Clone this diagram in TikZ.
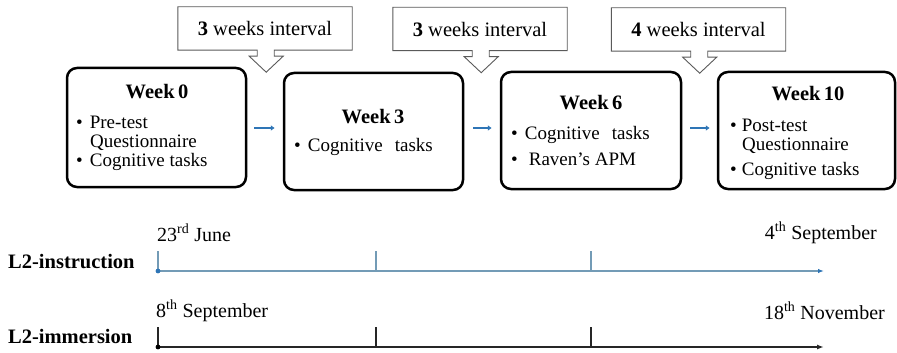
\documentclass[tikz,border=0pt]{standalone}
\usepackage{fontspec}
\setmainfont{Liberation Serif}
\usetikzlibrary{arrows.meta,calc}
\definecolor{tlblue}{RGB}{46,117,182}
\definecolor{tlline}{RGB}{115,155,182}
\definecolor{callgray}{RGB}{90,90,90}
\newcommand\bul[1]{\textbullet\hspace{#1}}
\begin{document}
\begin{tikzpicture}[x=1pt,y=-1pt,
  wkbox/.style={draw=black,line width=2.5pt,rounded corners=10pt,minimum width=179pt,minimum height=117pt,inner sep=0pt},
  callbox/.style={minimum width=174pt,minimum height=43pt,inner sep=0pt,font=\fontsize{20.5}{24}\selectfont},
  callline/.style={draw=callgray,line width=0.9pt,fill=white},
  ttl/.style={anchor=base,inner sep=0pt,font=\fontsize{20.5}{24}\selectfont\bfseries},
  itm/.style={anchor=base west,inner sep=0pt,font=\fontsize{19}{23}\selectfont},
  tltext/.style={inner sep=0pt,font=\fontsize{20}{24}\selectfont},
  tllab/.style={anchor=base west,inner sep=0pt,font=\fontsize{20.5}{24}\selectfont\bfseries},
  conn/.style={draw=tlblue,line width=2.4pt,-{Latex[length=4pt,width=6pt]}}
]
\useasboundingbox (0,0) rectangle (897,353);

% callouts
\node[callbox] (c1) at (265,28.5) {};
\node[callbox] (c2) at (480,29) {};
\node[callbox] (c3) at (698.5,29.5) {};
\foreach \c in {c1,c2,c3}{
  \draw[callline] (\c.south west) -- (\c.north west) -- (\c.north east) -- (\c.south east)
    -- ++(-78,0) -- ++(0,6) -- ++(9,0) -- ++(-17,16) -- ++(-17,-16) -- ++(8,0) -- ++(0,-6) -- cycle;
}
\node[callbox] at (c1) {\textbf{3} weeks interval};
\node[callbox] at (c2) {\textbf{3} weeks interval};
\node[callbox] at (c3) {\textbf{4} weeks interval};

% week boxes
\node[wkbox,minimum height=119pt] (w0) at (156.5,127.5) {};
\node[wkbox] (w3) at (373.5,131.5) {};
\node[wkbox,minimum width=180pt] (w6) at (591,130.5) {};
\node[wkbox,minimum width=177pt] (w10) at (806.5,130.5) {};

\node[ttl] (t0) at (157,99) {Week\,0};
\node[itm] (i01) at (76,128) {\bul{7pt}Pre-test};
\node[itm] (i02) at (90,147) {Questionnaire};
\node[itm] (i03) at (76,166) {\bul{7pt}Cognitive tasks};

\node[ttl] (t3) at (373,123) {Week\,3};
\node[itm] (i31) at (294,151) {\bul{7pt}Cognitive\hspace{12pt}tasks};

\node[ttl] (t6) at (591,109) {Week\,6};
\node[itm] (i61) at (511,139) {\bul{7pt}Cognitive\hspace{12pt}tasks};
\node[itm] (i62) at (511,165) {\bul{11pt}Raven’s APM};

\node[ttl] (t10) at (808,100) {Week\,10};
\node[itm] (i101) at (730,131) {\bul{5pt}Post-test};
\node[itm] (i102) at (742,150) {Questionnaire};
\node[itm] (i103) at (730,175) {\bul{5pt}Cognitive tasks};

% connectors between boxes
\draw[conn] ($(w0.east |- 0,128)+(7,0)$) -- ($(w3.west |- 0,128)+(-8,0)$);
\draw[conn] ($(w3.east |- 0,128)+(9,0)$) -- ($(w6.west |- 0,128)+(-8,0)$);
\draw[conn] ($(w6.east |- 0,128)+(8,0)$) -- ($(w10.west |- 0,128)+(-7,0)$);

% timeline 1
\coordinate (a0) at (158,271);
\coordinate (a1) at (376,271);
\coordinate (a2) at (591,271);
\coordinate (aE) at (824,271);
\draw[draw=tlline,line width=1.5pt,-{Latex[length=6pt,width=4.5pt,color=tlblue]}] (a0) -- (aE);
\foreach \p in {a0,a1,a2}{ \draw[draw=tlline,line width=1.3pt] (\p) -- ++(0,-20); }
\fill[tlblue] (a0) circle (2.4pt);
\node[tllab] (l1) at (8,268) {L2-instruction};
\node[tltext,anchor=base west] (d1) at (157,241) {23\textsuperscript{rd} June};
\node[tltext,anchor=base east] (d2) at (877,239) {4\textsuperscript{th} September};

% timeline 2
\coordinate (b0) at (158,347);
\coordinate (b1) at (376,347);
\coordinate (b2) at (591,347);
\coordinate (bE) at (824,347);
\draw[draw=black!85,line width=1.5pt,-{Latex[length=7pt,width=5pt]}] (b0) -- (bE);
\foreach \p in {b0,b1,b2}{ \draw[draw=black!85,line width=1.3pt] (\p) -- ++(0,-20); }
\fill[black] (b0) circle (2.4pt);
\node[tllab] (l2) at (8,343) {L2-immersion};
\node[tltext,anchor=base west] (d3) at (156,317) {8\textsuperscript{th} September};
\node[tltext,anchor=base east] (d4) at (885,319) {18\textsuperscript{th} November};
\end{tikzpicture}
\end{document}
